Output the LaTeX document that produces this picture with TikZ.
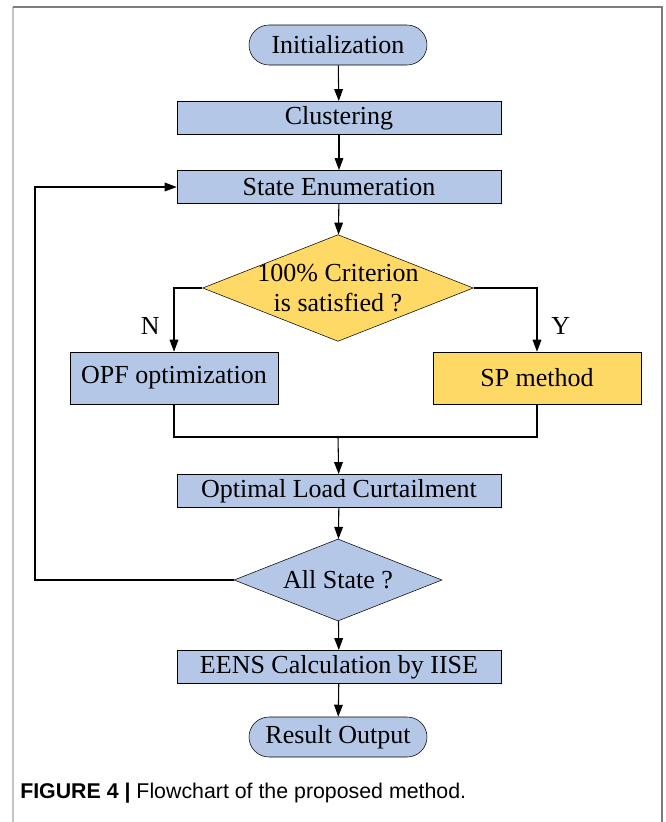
\documentclass[tikz,border=0pt]{standalone}
\usepackage{fontspec}
\setmainfont{Liberation Serif}
\newfontfamily\capfont{Liberation Sans}
\definecolor{flow_blue}{RGB}{180, 199, 231}
\definecolor{flow_gold}{RGB}{255, 217, 102}
\definecolor{frame_dark}{RGB}{125, 125, 125}
\definecolor{frame_light}{RGB}{195, 195, 195}
\usepackage{tikz}
\usetikzlibrary{arrows.meta, shapes.geometric, shapes.misc}

\tikzset{
  boxfont/.style={font=\fontsize{19.5}{22}\selectfont},
  procbox/.style={draw, fill=flow_blue, boxfont, inner sep=0pt,
    minimum width=243pt, minimum height=25pt},
  termbox/.style={draw, fill=flow_blue, boxfont, rounded rectangle, inner sep=0pt,
    minimum width=133.5pt, minimum height=30pt},
  decision/.style={draw, diamond, inner sep=0pt},
  flow/.style={line width=0.8pt, -{Triangle[length=9pt, width=6.5pt]}},
}

\begin{document}
\begin{tikzpicture}[x=0.75pt, y=-0.75pt]
    \useasboundingbox (0,0) rectangle (665,822);

    % frame
    \draw[frame_light, line width=1.2pt] (13,7) -- (13,822);
    \draw[frame_dark, line width=1.2pt]  (13,7) -- (662,7) -- (662,822);

    \node[termbox] (init) at (338,45)  {Initialization};
    \node[procbox] (clus) at (339,118) {Clustering};
    \node[procbox] (enum) at (339,187) {State Enumeration};

    \node[decision, fill=flow_gold, minimum width=203pt, minimum height=80pt] (crit) at (338,288) {};
    \node[boxfont, align=center] (critText) at (crit.center) {100\% Criterion\\is satisfied ?};

    \node[procbox, fill=flow_blue, minimum width=156pt, minimum height=39pt] (opf) at (174,378) {OPF optimization};
    \node[procbox, fill=flow_gold, minimum width=156pt, minimum height=39pt] (sp)  at (537,378) {SP method};
    \coordinate (merge) at (338,437);

    \node[procbox] (olc) at (339,491) {Optimal Load Curtailment};

    \node[decision, fill=flow_blue, minimum width=156pt, minimum height=61.5pt] (all) at (338,580) {};
    \node[boxfont] (allText) at (all.center) {All State ?};
    \coordinate (loop) at (35,580);

    \node[procbox] (eens) at (339,667) {EENS Calculation by IISE};
    \node[termbox] (out)  at (338,737) {Result Output};

    % connectors
    \draw[flow] (init) -- (clus);
    \draw[flow] (clus) -- (enum);
    \draw[flow] (enum) -- (crit);
    \draw[flow] (crit.west) -| node[boxfont, pos=0.8, left=7pt]  {N} (opf.north);
    \draw[flow] (crit.east) -| node[boxfont, pos=0.8, right=7pt] {Y} (sp.north);
    \draw[line width=0.8pt] (opf.south) |- (merge);
    \draw[line width=0.8pt] (sp.south) |- (merge);
    \draw[flow] (merge) -- (olc);
    \draw[flow] (olc) -- (all);
    \draw[flow] (all.west) -- (loop) |- (enum.west);
    \draw[flow] (all) -- (eens);
    \draw[flow] (eens) -- (out);

    \node[anchor=west, inner sep=0pt, font=\capfont\fontsize{16}{18}\selectfont] (caption) at (20,793)
      {\textbf{FIGURE 4 |} Flowchart of the proposed method.};
  \end{tikzpicture}
\end{document}
